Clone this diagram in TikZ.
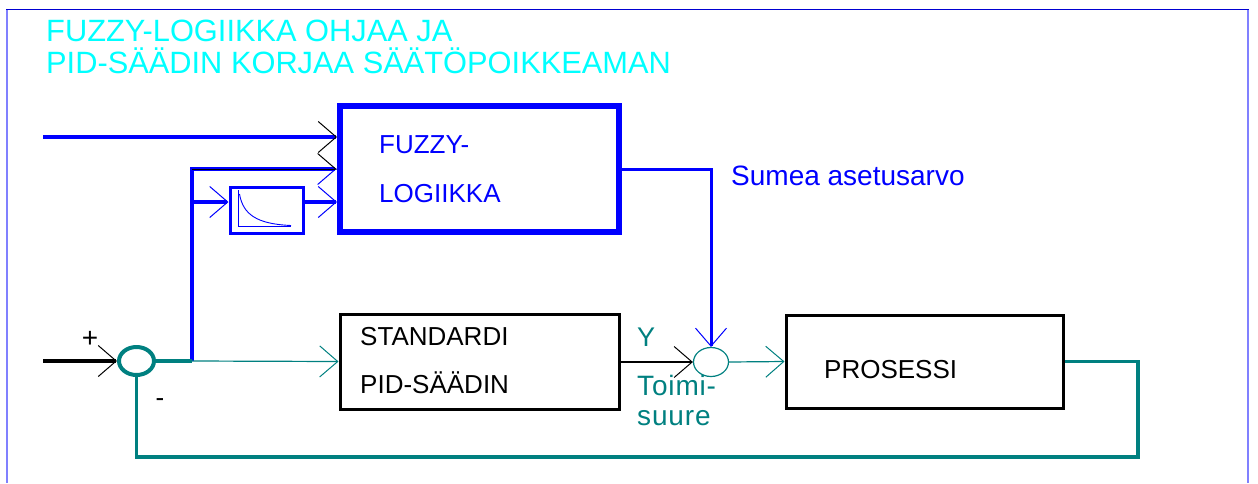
\documentclass[tikz,border=0pt]{standalone}
\usepackage{fontspec}
\setmainfont{Liberation Sans}
\usetikzlibrary{arrows.meta,shapes.geometric}
\definecolor{fzblue}{RGB}{0,0,255}
\definecolor{sigteal}{RGB}{0,128,128}
\definecolor{ttlcyan}{RGB}{0,255,255}
\definecolor{frametop}{RGB}{0,0,210}
\definecolor{frameside}{RGB}{128,128,255}
\begin{document}
\begin{tikzpicture}[x=1pt,y=-1pt,
  lbl/.style={anchor=base west,inner sep=0pt,font=\fontsize{26}{30}\selectfont},
  siglbl/.style={anchor=base west,inner sep=0pt,font=\fontsize{28}{32}\selectfont},
  ttl/.style={anchor=base west,inner sep=0pt,text=ttlcyan,font=\fontsize{30.8}{34}\selectfont},
  fzbox/.style={draw=fzblue,line width=6pt,rectangle,inner sep=0pt,minimum width=279pt,minimum height=126pt},
  dlybox/.style={draw=fzblue,line width=3pt,rectangle,inner sep=0pt,minimum width=73pt,minimum height=46pt},
  blkbox/.style={draw=black,line width=3pt,rectangle,inner sep=0pt},
  barb/.style={-{Straight Barb[length=18pt,width=31pt,line width=1pt 0]}},
  blackbarb/.style={-{Straight Barb[length=18pt,width=31pt,line width=1pt 0,color=black]}},
  bluebus/.style={draw=fzblue,line width=4pt},
  tealbus/.style={draw=sigteal,line width=3.5pt},
  tealsig/.style={draw=sigteal,line width=1.2pt},
]
\useasboundingbox (0,0) rectangle (1258,483);

% outer frame
\draw[frameside,line width=2pt] (7,9) -- (7,483);
\draw[frameside,line width=2pt] (1248,9) -- (1248,483);
\draw[frametop,line width=1.6pt] (6,9.5) -- (1249,9.5);

% title
\node[ttl] (t1) at (46,41) {FUZZY-LOGIIKKA OHJAA JA};
\node[ttl] (t2) at (46,73) {PID-SÄÄDIN KORJAA SÄÄTÖPOIKKEAMAN};

% blocks
\node[fzbox] (fz) at (479.5,169) {};
\node[dlybox] (dly) at (266.5,210) {};
\node[blkbox,minimum width=279pt,minimum height=95pt] (pid) at (479.5,361.5) {};
\node[blkbox,minimum width=277pt,minimum height=93pt] (proc) at (924.5,361.5) {};
\node[ellipse,draw=sigteal,line width=4pt,inner sep=0pt,minimum width=35pt,minimum height=28pt] (s1) at (136.5,361) {};
\node[ellipse,draw=sigteal,line width=1.2pt,inner sep=0pt,minimum width=35pt,minimum height=29pt] (s2) at (711,362) {};

% decay curve inside the delay block
\draw[fzblue,line width=0.9pt] (238,190) -- (238,226) -- (291,226);
\draw[fzblue,line width=0.9pt] (239.5,194) .. controls (243,214) and (256,224) .. (291,225.5);

% block texts
\node[lbl,text=fzblue] (fzt1) at (379,153) {FUZZY-};
\node[lbl,text=fzblue] (fzt2) at (379,202) {LOGIIKKA};
\node[siglbl,text=fzblue] (sumea) at (731,185) {Sumea asetusarvo};
\node[lbl] (pidt1) at (360,345) {STANDARDI};
\node[lbl] (pidt2) at (360,393) {PID-SÄÄDIN};
\node[lbl] (proct) at (824,378) {PROSESSI};
\node[siglbl,text=sigteal,font=\fontsize{27}{30}\selectfont] (ylbl) at (637,346) {Y};
\node[siglbl,text=sigteal] (tm1) at (637,395) {\addfontfeature{LetterSpace=3}Toimi-};
\node[siglbl,text=sigteal] (tm2) at (637,425) {\addfontfeature{LetterSpace=3}suure};
\node[inner sep=0pt,font=\fontsize{28}{30}\selectfont] (plus) at (90,339) {+};
\node[inner sep=0pt,font=\fontsize{26}{28}\selectfont] (minus) at (160,403) {-};

% signal points
\coordinate (in1) at (43,137);
\coordinate (src) at (43,361);
\coordinate (j1) at (192,361);
\coordinate (br) at (192,169);
\coordinate (tap) at (192,202);
\coordinate (fbr) at (1138,457);

% fuzzy block inputs
\draw[bluebus,blackbarb] (in1) -- (in1 -| fz.west);
\draw[bluebus,-{Straight Barb[harpoon,swap,length=18pt,width=31pt,line width=1pt 0]}] (j1) |- (fz.west);
\draw[black,line width=0.1pt,-{Straight Barb[harpoon,length=18pt,width=31pt,line width=1pt 0]}] (br) -- (fz.west);
\draw[bluebus,barb] (tap) -- (dly.west |- tap);
\draw[bluebus,barb] (dly.east |- tap) -- (fz.west |- tap);

% fuzzy setpoint to the second summing point
\draw[draw=fzblue,line width=3pt,barb] (fz.east) -| (s2.north);

% main loop
\draw[draw=black,line width=4pt,blackbarb] (src) -- (s1.west);
\draw[tealbus] (s1.east) -- (j1);
\draw[tealsig,barb] (j1) -- (pid.west);
\draw[black,line width=1.2pt,barb] (pid.east |- s2) -- (s2.west);
\draw[tealsig,barb] (s2.east) -- (proc.west);
\draw[tealbus] (proc.east) -| (fbr) -| (s1.south);
\end{tikzpicture}
\end{document}
